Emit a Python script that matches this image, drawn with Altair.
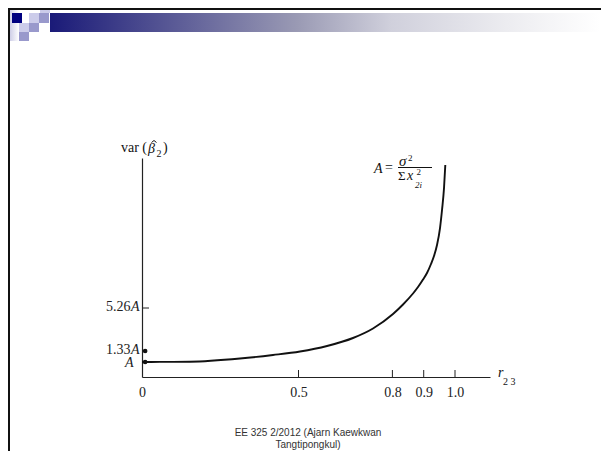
import altair as alt
import pandas as pd

# ---- data ----
r_vals = [0.0, 0.0575, 0.1534, 0.3131, 0.4185, 0.5048, 0.5911, 0.6741, 0.7380, 0.8019,
          0.8339, 0.8658, 0.8818, 0.8978, 0.9105, 0.9233, 0.9329, 0.9425, 0.9521, 0.9585,
          0.9649, 0.9690]
var_vals = [1.0, 1.003, 1.009, 1.105, 1.21, 1.315, 1.787, 2.518, 3.387, 4.712,
            5.511, 6.298, 6.763, 7.300, 7.765, 8.410, 8.982, 9.770, 10.987, 12.275,
            13.850, 15.496]

dot_r = [0.01, 0.01]
dot_v = [1.0, 1.33]

x_label_vals = [0.0, 0.5, 0.8, 0.9, 1.0]
x_tick_vals = [0.5, 0.8, 0.9, 1.0]
y_num_vals = [1.33, 5.26]
y_num_txt = ["1.33", "5.26"]
y_tick_vals = [5.26]

y_domain = [0, 1.0, 1.33, 5.26, 16.0]
y_range = [219, 204, 193, 150, 0]
x_domain = [0, 1.1118]

W, H = 348, 219
PAD = {"left": 134, "top": 150, "right": 111, "bottom": 74}


def X(p):
    return p - 142


def Y(p):
    return p - 158


one = pd.DataFrame({"k": [0]})
SERIF = "Liberation Serif"
SANS = "Liberation Sans"
INK = "#111"

xenc = alt.X(
    "r:Q",
    scale=alt.Scale(domain=x_domain, nice=False, zero=False),
    axis=alt.Axis(values=x_label_vals, labelExpr="datum.value == 0 ? '0' : format(datum.value, '.1f')",
                  ticks=False, grid=False, domainColor="#222", domainWidth=1.2,
                  labelFont=SERIF, labelFontSize=14, labelColor="#222", labelPadding=8,
                  title=None, labelFlush=False, labelOverlap=False),
)
yenc = alt.Y(
    "v:Q",
    scale=alt.Scale(domain=y_domain, range=y_range, nice=False, zero=False),
    axis=alt.Axis(labels=False, ticks=False, grid=False, domainColor="#222",
                  domainWidth=1.2, title=None),
)

curve_df = pd.DataFrame({"r": r_vals, "v": var_vals})
dots_df = pd.DataFrame({"r": dot_r, "v": dot_v})
xt_df = pd.DataFrame({"r": x_tick_vals, "v": [0] * len(x_tick_vals)})
yt_df = pd.DataFrame({"r": [0] * len(y_tick_vals), "v": y_tick_vals})
ynum_df = pd.DataFrame({"v": y_num_vals, "t": y_num_txt})

curve = alt.Chart(curve_df).mark_line(color=INK, strokeWidth=1.9, interpolate="monotone").encode(x=xenc, y=yenc)
dots = alt.Chart(dots_df).mark_circle(color=INK, size=22, opacity=1).encode(x=xenc, y=yenc)
xticks = alt.Chart(xt_df).mark_rule(color="#222", strokeWidth=1).encode(
    x=xenc, y=alt.value(H), y2=alt.value(H - 7))
yticks = alt.Chart(yt_df).mark_rule(color="#222", strokeWidth=1).encode(
    y=yenc, x=alt.value(0), x2=alt.value(7))

# y-axis labels: number upright, "A" italic (as in the figure)
ynum = alt.Chart(ynum_df).mark_text(font=SERIF, fontSize=14, align="right", baseline="middle",
                                    color="#222", dy=-1).encode(
    y=yenc, x=alt.value(X(130.5)), text="t:N")
yA = alt.Chart(ynum_df).mark_text(text="A", font=SERIF, fontSize=14, fontStyle="italic",
                                  align="right", baseline="middle", color="#222", dy=-1).encode(
    y=yenc, x=alt.value(X(139.5)))
yA1 = alt.Chart(pd.DataFrame({"v": [1.0]})).mark_text(
    text="A", font=SERIF, fontSize=14, fontStyle="italic", align="right", baseline="middle",
    color="#222", dy=1).encode(y=yenc, x=alt.value(X(133.5)))


def rect(x0, x1, y0, y1, color):
    return alt.Chart(one).mark_rect(color=color).encode(
        x=alt.value(X(x0)), x2=alt.value(X(x1)), y=alt.value(Y(y0)), y2=alt.value(Y(y1)))


def seg(x0, y0, x1, y1, w=1.0):
    return alt.Chart(one).mark_rule(color=INK, strokeWidth=w).encode(
        x=alt.value(X(x0)), x2=alt.value(X(x1)), y=alt.value(Y(y0)), y2=alt.value(Y(y1)))


def txt(s, x, y, size=14, font=SERIF, style="normal", align="left", baseline="alphabetic", color=INK):
    return alt.Chart(one).mark_text(
        text=s, font=font, fontSize=size, fontStyle=style, align=align, baseline=baseline, color=color
    ).encode(x=alt.value(X(x)), y=alt.value(Y(y)))


bar_grad = {"gradient": "linear", "x1": 0, "x2": 1, "y1": 0, "y2": 0,
            "stops": [{"offset": 0, "color": "#1a1a78"}, {"offset": 0.45, "color": "#9a9ab4"},
                      {"offset": 0.62, "color": "#d0d0dc"}, {"offset": 0.83, "color": "#ececf0"},
                      {"offset": 1, "color": "#ffffff"}]}
strip_grad = {"gradient": "linear", "x1": 0, "x2": 1, "y1": 0, "y2": 0,
              "stops": [{"offset": 0, "color": "#c4c4e2"}, {"offset": 1, "color": "#ffffff"}]}

deco = [
    rect(8, 19, 10, 41, strip_grad),
    rect(50, 600, 13, 32, bar_grad),
    rect(12, 22, 13, 23, "#000080"),
    rect(29, 39, 13, 23, "#ccccea"),
    rect(39, 49, 13, 23, "#9999cc"),
    rect(40, 50, 8, 13, "#ccccea"),
    rect(19, 29, 23, 32, "#ccccea"),
    rect(29, 39, 23, 32, "#9999cc"),
    rect(19, 29, 32, 41, "#9999cc"),
    rect(8, 601, 8, 10, "#111"),
    rect(8, 10, 8, 451, "#111"),
]

annot = [
    txt("var (", 147, 148, size=14, align="right", baseline="middle"),
    txt("β", 148, 153, size=14, style="italic"),
    seg(151.5, 142.5, 154, 140.5),
    seg(154, 140.5, 156.5, 142.5),
    txt("2", 156.5, 157, size=10),
    txt(")", 163, 148, size=14, baseline="middle"),
    txt("A", 374, 173, size=14, style="italic"),
    txt("=", 385, 172, size=14),
    txt("σ", 399, 166, size=15, style="italic"),
    txt("2", 408, 161, size=9),
    seg(398, 167.5, 432, 167.5),
    txt("Σ", 398, 180, size=13),
    txt("x", 407, 180, size=14, style="italic"),
    txt("2", 416.5, 175, size=9),
    txt("2i", 415, 188, size=9, style="italic"),
    txt("r", 498, 377, size=14, style="italic"),
    txt("2 3", 503, 385, size=10),
    txt("EE 325 2/2012 (Ajarn Kaewkwan", 308, 433, size=10, font=SANS, align="center",
        baseline="middle", color="#333"),
    txt("Tangtipongkul)", 308, 445, size=10, font=SANS, align="center", baseline="middle",
        color="#333"),
]

chart = alt.layer(*deco, curve, xticks, yticks, dots, ynum, yA, yA1, *annot).properties(
    width=W, height=H, padding=PAD, autosize="none", background="white"
).configure_view(stroke=None)

chart.save("out.html", embed_options={"renderer": "svg", "actions": False})
